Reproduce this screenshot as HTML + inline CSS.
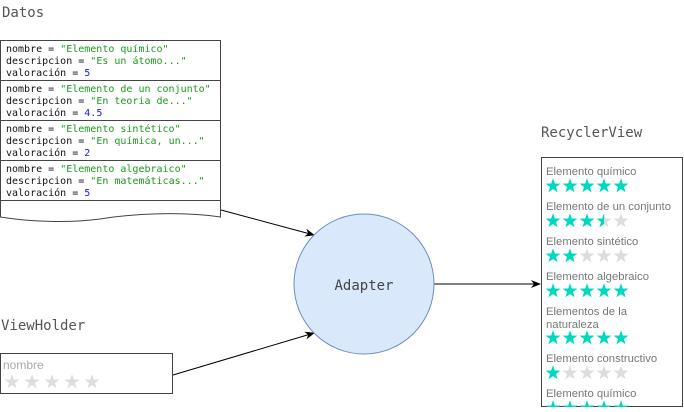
<!DOCTYPE html>
<html><head><meta charset="utf-8"><style>
html,body{margin:0;padding:0;background:#fff;}
svg{display:block}
.m{font-family:"DejaVu Sans Mono","Liberation Mono",monospace;}
.s{font-family:"Liberation Sans",sans-serif;}
</style></head><body>
<svg width="684" height="412" viewBox="0 0 684 412" xmlns="http://www.w3.org/2000/svg">
<defs>
<polygon id="st" points="0,-7.8 1.84,-2.53 7.42,-2.41 2.98,0.97 4.58,6.31 0,3.12 -4.58,6.31 -2.98,0.97 -7.42,-2.41 -1.84,-2.53"/>
<marker id="ar" markerWidth="10" markerHeight="10" refX="9" refY="5" orient="auto" markerUnits="userSpaceOnUse"><path d="M0,1 L10,5 L0,9 L3,5 z" fill="#000"/></marker>
<clipPath id="rc"><rect x="541" y="157" width="142" height="250"/></clipPath>
<clipPath id="hf"><rect x="595" y="210" width="9" height="22"/></clipPath>
</defs>
<text x="2" y="17" class="m" font-size="14" fill="#555">Datos</text>
<text x="541" y="137" class="m" font-size="14" fill="#555">RecyclerView</text>
<text x="1" y="330" class="m" font-size="14" fill="#555">ViewHolder</text>

<g fill="#fff" stroke="#444" stroke-width="1">
<rect x="0.5" y="40.5" width="220" height="40"/>
<rect x="0.5" y="80.5" width="220" height="40"/>
<rect x="0.5" y="120.5" width="220" height="40"/>
<rect x="0.5" y="160.5" width="220" height="40"/>
<path d="M0.5,200.5 H220.5 V217 C180,211 130,214 100,219 C70,223 30,222 0.5,217 Z"/>
</g>
<g class="m" font-size="10" fill="#111">
<text x="6" y="52">nombre = <tspan fill="#1a9a1a">"Elemento químico"</tspan></text>
<text x="6" y="64">descripcion = <tspan fill="#1a9a1a">"Es un átomo..."</tspan></text>
<text x="6" y="76">valoración = <tspan fill="#1a1aee">5</tspan></text>
<text x="6" y="92">nombre = <tspan fill="#1a9a1a">"Elemento de un conjunto"</tspan></text>
<text x="6" y="104">descripcion = <tspan fill="#1a9a1a">"En teoria de..."</tspan></text>
<text x="6" y="116">valoración = <tspan fill="#1a1aee">4.5</tspan></text>
<text x="6" y="132">nombre = <tspan fill="#1a9a1a">"Elemento sintético"</tspan></text>
<text x="6" y="144">descripcion = <tspan fill="#1a9a1a">"En química, un..."</tspan></text>
<text x="6" y="156">valoración = <tspan fill="#1a1aee">2</tspan></text>
<text x="6" y="172">nombre = <tspan fill="#1a9a1a">"Elemento algebraico"</tspan></text>
<text x="6" y="184">descripcion = <tspan fill="#1a9a1a">"En matemáticas..."</tspan></text>
<text x="6" y="196">valoración = <tspan fill="#1a1aee">5</tspan></text>
</g>

<g stroke="#000" stroke-width="1" fill="none">
<line x1="221" y1="210" x2="314" y2="235" marker-end="url(#ar)"/>
<line x1="434" y1="284" x2="540" y2="284" marker-end="url(#ar)"/>
<line x1="173" y1="375" x2="314" y2="333" marker-end="url(#ar)"/>
</g>

<circle cx="364" cy="284" r="70" fill="#dae8fc" stroke="#6c8ebf"/>
<text x="364" y="290" text-anchor="middle" class="m" font-size="14" fill="#444">Adapter</text>

<rect x="0.5" y="353.5" width="172" height="40" fill="#fff" stroke="#444"/>
<text x="3" y="369" class="s" font-size="12" fill="#aaa">nombre</text>
<g fill="#ddd">
<use href="#st" x="12" y="382"/><use href="#st" x="32" y="382"/><use href="#st" x="52" y="382"/><use href="#st" x="72" y="382"/><use href="#st" x="92" y="382"/>
</g>

<rect x="541.5" y="157.5" width="141" height="249" fill="#fff" stroke="#444"/>
<g clip-path="url(#rc)">
<g class="s" font-size="11.3" fill="#777">
<text x="546" y="175">Elemento químico</text>
<text x="546" y="210">Elemento de un conjunto</text>
<text x="546" y="245">Elemento sintético</text>
<text x="546" y="280">Elemento algebraico</text>
<text x="546" y="315">Elementos de la</text>
<text x="546" y="328">naturaleza</text>
<text x="546" y="362">Elemento constructivo</text>
<text x="546" y="397">Elemento químico</text>
</g>
<g id="r5" fill="#00d8bf">
<use href="#st" x="553" y="186"/><use href="#st" x="570" y="186"/><use href="#st" x="587" y="186"/><use href="#st" x="604" y="186"/><use href="#st" x="621" y="186"/>
</g>
<g fill="#ddd">
<use href="#st" x="604" y="221"/><use href="#st" x="621" y="221"/>
<use href="#st" x="587" y="256"/><use href="#st" x="604" y="256"/><use href="#st" x="621" y="256"/>
<use href="#st" x="570" y="373"/><use href="#st" x="587" y="373"/><use href="#st" x="604" y="373"/><use href="#st" x="621" y="373"/>
</g>
<g fill="#00d8bf">
<use href="#st" x="553" y="221"/><use href="#st" x="570" y="221"/><use href="#st" x="587" y="221"/>
<g clip-path="url(#hf)"><use href="#st" x="604" y="221"/></g>
<use href="#st" x="553" y="256"/><use href="#st" x="570" y="256"/>
<use href="#st" x="553" y="373"/>
</g>
<use href="#r5" y="105"/>
<use href="#r5" y="152"/>
<use href="#r5" y="222"/>
</g>
</svg>
</body></html>
